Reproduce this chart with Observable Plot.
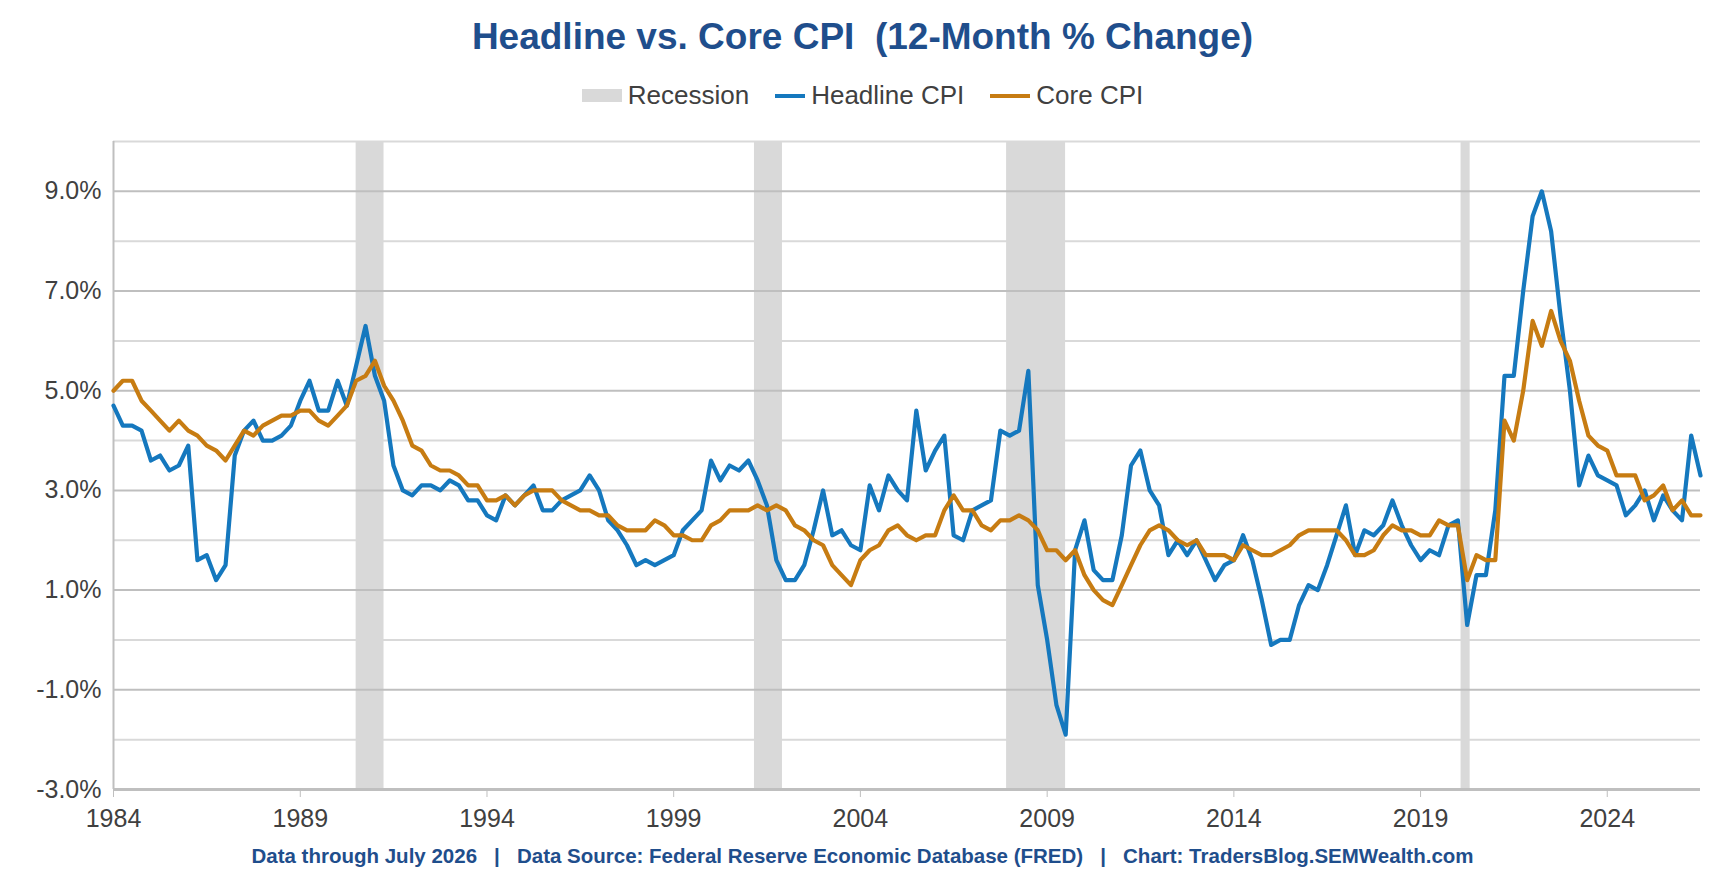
<!DOCTYPE html>
<html><head><meta charset="utf-8">
<script src="https://cdn.jsdelivr.net/npm/d3@7"></script>
<script src="https://cdn.jsdelivr.net/npm/@observablehq/plot@0.6"></script>
<style>
body{margin:0;background:#fff;font-family:"Liberation Sans",Arial,sans-serif;}
#wrap{position:relative;width:1725px;height:892px;}
#title{position:absolute;top:16px;left:0;width:1725px;text-align:center;font-weight:bold;font-size:37px;color:#1F4E8C;}
#legend{position:absolute;top:80px;left:0;width:1725px;display:flex;justify-content:center;gap:26px;font-size:26px;color:#404040;align-items:center;}
#legend span{display:inline-flex;align-items:center;}
#legend i{display:inline-block;margin-right:6px;}
#foot{position:absolute;top:844px;left:0;width:1725px;text-align:center;font-weight:bold;font-size:20.5px;color:#1F4E8C;}
svg{position:absolute;top:0;left:0;}
svg g[aria-label="y-axis tick label"] text, svg g[aria-label="x-axis tick label"] text{font-size:25px;}
</style></head><body>
<div id="wrap">
<div id="chart"></div>
<div id="title">Headline vs. Core CPI&nbsp; (12-Month % Change)</div>
<div id="legend">
<span><i style="width:40px;height:13px;background:#d9d9d9"></i>Recession</span>
<span><i style="width:30px;height:4px;background:#1578BE"></i>Headline CPI</span>
<span><i style="width:40px;height:4px;background:#C77C12"></i>Core CPI</span>
</div>
<div id="foot">Data through July 2026&nbsp;&nbsp; | &nbsp;&nbsp;Data Source: Federal Reserve Economic Database (FRED) &nbsp;&nbsp;| &nbsp;&nbsp;Chart: TradersBlog.SEMWealth.com</div>
</div>
<script>
const startYear = 1984;
const headline = [
4.7,4.3,4.3,4.2, 3.6,3.7,3.4,3.5, 3.9,1.6,1.7,1.2, 1.5,3.7,4.2,4.4, 4.0,4.0,4.1,4.3,
4.8,5.2,4.6,4.6, 5.2,4.7,5.5,6.3, 5.3,4.8,3.5,3.0, 2.9,3.1,3.1,3.0, 3.2,3.1,2.8,2.8,
2.5,2.4,2.9,2.7, 2.9,3.1,2.6,2.6, 2.8,2.9,3.0,3.3, 3.0,2.4,2.2,1.9, 1.5,1.6,1.5,1.6,
1.7,2.2,2.4,2.6, 3.6,3.2,3.5,3.4, 3.6,3.2,2.7,1.6, 1.2,1.2,1.5,2.2, 3.0,2.1,2.2,1.9,
1.8,3.1,2.6,3.3, 3.0,2.8,4.6,3.4, 3.8,4.1,2.1,2.0, 2.6,2.7,2.8,4.2, 4.1,4.2,5.4,1.1,
0.0,-1.3,-1.9,1.8, 2.4,1.4,1.2,1.2, 2.1,3.5,3.8,3.0, 2.7,1.7,2.0,1.7, 2.0,1.6,1.2,1.5,
1.6,2.1,1.6,0.8, -0.1,0.0,0.0,0.7, 1.1,1.0,1.5,2.1, 2.7,1.7,2.2,2.1, 2.3,2.8,2.3,1.9,
1.6,1.8,1.7,2.3, 2.4,0.3,1.3,1.3, 2.6,5.3,5.3,7.0, 8.5,9.0,8.2,6.5, 5.0,3.1,3.7,3.3,
3.2,3.1,2.5,2.7, 3.0,2.4,2.9,2.6, 2.4,4.1,3.3];
const core = [
5.0,5.2,5.2,4.8, 4.6,4.4,4.2,4.4, 4.2,4.1,3.9,3.8, 3.6,3.9,4.2,4.1, 4.3,4.4,4.5,4.5,
4.6,4.6,4.4,4.3, 4.5,4.7,5.2,5.3, 5.6,5.1,4.8,4.4, 3.9,3.8,3.5,3.4, 3.4,3.3,3.1,3.1,
2.8,2.8,2.9,2.7, 2.9,3.0,3.0,3.0, 2.8,2.7,2.6,2.6, 2.5,2.5,2.3,2.2, 2.2,2.2,2.4,2.3,
2.1,2.1,2.0,2.0, 2.3,2.4,2.6,2.6, 2.6,2.7,2.6,2.7, 2.6,2.3,2.2,2.0, 1.9,1.5,1.3,1.1,
1.6,1.8,1.9,2.2, 2.3,2.1,2.0,2.1, 2.1,2.6,2.9,2.6, 2.6,2.3,2.2,2.4, 2.4,2.5,2.4,2.2,
1.8,1.8,1.6,1.8, 1.3,1.0,0.8,0.7, 1.1,1.5,1.9,2.2, 2.3,2.2,2.0,1.9, 2.0,1.7,1.7,1.7,
1.6,1.9,1.8,1.7, 1.7,1.8,1.9,2.1, 2.2,2.2,2.2,2.2, 2.0,1.7,1.7,1.8, 2.1,2.3,2.2,2.2,
2.1,2.1,2.4,2.3, 2.3,1.2,1.7,1.6, 1.6,4.4,4.0,5.0, 6.4,5.9,6.6,6.0, 5.6,4.8,4.1,3.9,
3.8,3.3,3.3,3.3, 2.8,2.9,3.1,2.6, 2.8,2.5,2.5];
const recessions = [["1990-07-01","1991-03-31"],["2001-03-01","2001-11-30"],["2007-12-01","2009-06-30"],["2020-02-01","2020-04-30"]];
const yearTicks = [1984,1989,1994,1999,2004,2009,2014,2019,2024];
const yLabelTicks = [-3,-1,1,3,5,7,9];
const yGrid = d3.range(-3,11,1);

const qDate = i => new Date(startYear + Math.floor(i/4), (i%4)*3, 1);
const rows = [];
headline.forEach((v,i)=>rows.push({date:qDate(i), v, s:"Headline"}));
core.forEach((v,i)=>rows.push({date:qDate(i), v, s:"Core"}));
const rec = recessions.map(([a,b])=>({a:new Date(a),b:new Date(b)}));

const chart = Plot.plot({
  width:1725, height:860,
  marginTop:141, marginBottom:71, marginLeft:113, marginRight:25,
  style:{fontFamily:"Liberation Sans, Arial, sans-serif", fontSize:"25px", color:"#404040", background:"transparent"},
  x:{type:"utc", domain:[new Date(1984,0,1), new Date(2026,6,1)]},
  y:{domain:[-3,10]},
  marks:[
    Plot.rectY(rec,{x1:"a",x2:"b",y1:-3,y2:10,fill:"#d9d9d9"}),
    Plot.ruleY(yGrid.filter(d=>d>-3),{stroke:d=>Math.abs(d)%2===1?"#bfbfbf":"#d9d9d9",strokeWidth:2}),
    Plot.ruleY([-3],{stroke:"#bfbfbf",strokeWidth:3}),
    Plot.ruleX([new Date(1984,0,1)],{stroke:"#bfbfbf",strokeWidth:2}),
    Plot.axisY({ticks:yLabelTicks,tickFormat:d=>d.toFixed(1)+"%",tickSize:0,tickPadding:12,label:null,fontSize:25}),
    Plot.axisX({ticks:yearTicks.map(y=>new Date(y,0,1)),tickFormat:d=>String(d.getFullYear()),tickSize:8,tickPadding:12,label:null,fontSize:25,stroke:"#bfbfbf"}),
    Plot.lineY(rows.filter(r=>r.s==="Headline"),{x:"date",y:"v",stroke:"#1578BE",strokeWidth:4.2,curve:"linear"}),
    Plot.lineY(rows.filter(r=>r.s==="Core"),{x:"date",y:"v",stroke:"#C77C12",strokeWidth:4.2,curve:"linear"})
  ]
});
document.getElementById("chart").appendChild(chart);
</script>
</body></html>
